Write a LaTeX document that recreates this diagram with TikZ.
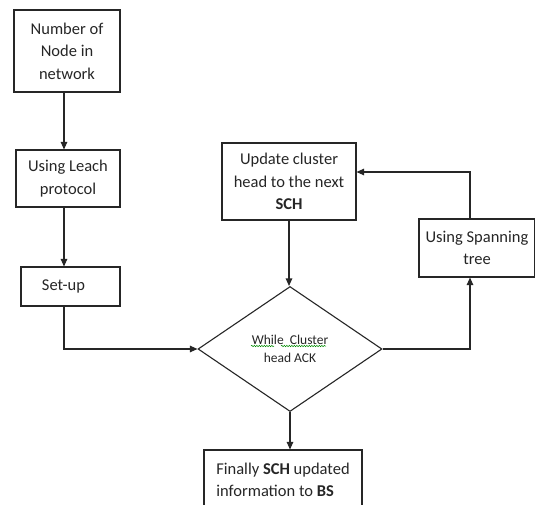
\documentclass[tikz,border=0pt]{standalone}
\usepackage{fontspec}
\setmainfont{Carlito}
\usetikzlibrary{shapes.geometric,arrows.meta,decorations.pathmorphing}
\begin{document}
\begin{tikzpicture}[x=1pt,y=1pt,
  box/.style={draw=black!85, line width=1.1pt, rectangle, align=center, inner sep=0pt,
    font=\fontsize{16.5}{22.5}\selectfont, text=black!85},
  dec/.style={draw=black!85, line width=1.1pt, diamond, inner sep=0pt, align=center,
    minimum width=184pt, minimum height=125pt, font=\fontsize{13.5}{18}\selectfont, text=black!85},
  arr/.style={draw=black!85, line width=1.1pt, -{Triangle[length=7.5pt,width=6.5pt]}}]
\clip (0,0) rectangle (535,-504);
\fill[white] (0,0) rectangle (535,-504);

\coordinate (colA) at (64,0);
\coordinate (colB) at (470,0);

\node[box, minimum width=106pt, minimum height=82pt] (b1) at (67,-51) {Number of\\Node in\\network};
\node[box, minimum width=104pt, minimum height=57pt] (b2) at (68,-178.5) {Using Leach\\protocol};
\node[box, minimum width=99pt, minimum height=39pt] (b3) at (70.5,-286.5) {\hspace*{-14pt}Set-up};
\node[box, minimum width=134pt, minimum height=77pt] (up) at (289,-181.5) {Update cluster\\head to the next\\\textbf{SCH}};
\node[box, minimum width=116pt, minimum height=58pt] (sp) at (477,-248) {Using Spanning\\tree};
\node[dec] (d) at (290,-349) {While\ \ Cluster\\head ACK};
\node[box, minimum width=158pt, minimum height=60pt, align=left] (fin) at (283,-480) {Finally \textbf{SCH} updated\\information to \textbf{BS}};

\draw[green!55!black, line width=0.5pt, decorate, decoration={snake, segment length=2.5pt, amplitude=0.7pt}]
  (251,-346) -- (274,-346);
\draw[green!55!black, line width=0.5pt, decorate, decoration={snake, segment length=2.5pt, amplitude=0.7pt}]
  (281,-346) -- (326,-346);

\draw[arr] (b1.south -| colA) -- (b2.north -| colA);
\draw[arr] (b2.south -| colA) -- (b3.north -| colA);
\draw[arr] (b3.south -| colA) |- (d.west);
\draw[arr] (up.south) -- (up.south |- d.north);
\draw[arr] (d.east) -| (colB |- sp.south);
\draw[arr] (colB |- sp.north) |- ([yshift=9.5pt]up.east);
\draw[arr] (d.south) -- (d.south |- fin.north);
\end{tikzpicture}
\end{document}
